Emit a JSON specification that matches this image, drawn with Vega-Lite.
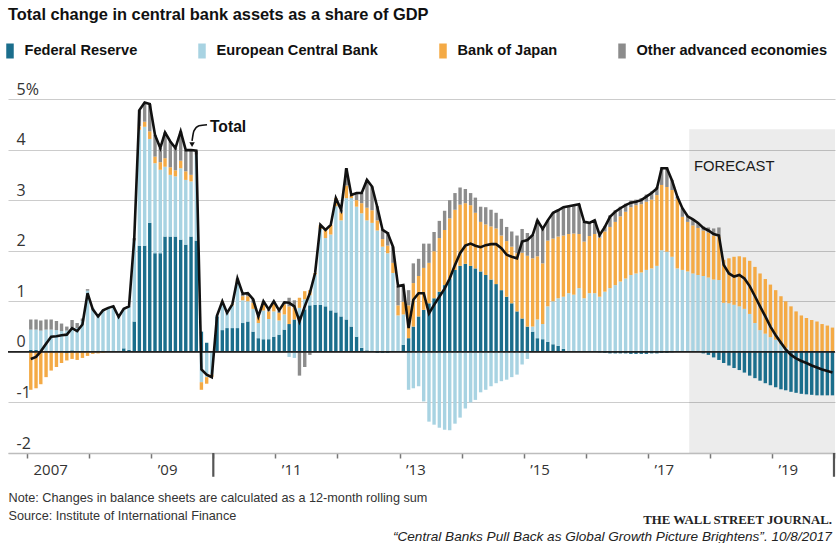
{
"$schema": "https://vega.github.io/schema/vega-lite/v6.json",
"width": 827,
"height": 354,
"autosize": {"type": "none"},
"padding": {"left": 8, "top": 99, "right": 2, "bottom": 90},
"background": "#ffffff",
"config": {"view": {"stroke": null}, "axis": {"zindex": 0}, "scale": {"continuousPadding": 0}},
"title": {"text": "Total change in central bank assets as a share of GDP", "anchor": "start", "frame": "group", "font": "Liberation Sans, Arial, sans-serif", "fontSize": 16.4, "fontWeight": "bold", "color": "#111111", "offset": 20},
"datasets": {"cb": [
{"t":"2007-01-23","s1":0.04,"s2":0.40,"s3":-0.75,"s4":0.20,"tot":-0.14},
{"t":"2007-02-23","s1":0.04,"s2":0.40,"s3":-0.72,"s4":0.20,"tot":-0.10},
{"t":"2007-03-23","s1":0.02,"s2":0.40,"s3":-0.64,"s4":0.20,"tot":0.01},
{"t":"2007-04-23","s1":0.01,"s2":0.43,"s3":-0.50,"s4":0.20,"tot":0.16},
{"t":"2007-05-23","s1":0.01,"s2":0.43,"s3":-0.37,"s4":0.20,"tot":0.30},
{"t":"2007-06-23","s1":0.01,"s2":0.42,"s3":-0.30,"s4":0.18,"tot":0.31},
{"t":"2007-07-23","s1":0.01,"s2":0.40,"s3":-0.22,"s4":0.15,"tot":0.33},
{"t":"2007-08-23","s1":-0.02,"s2":0.42,"s3":-0.15,"s4":0.08,"tot":0.34},
{"t":"2007-09-23","s1":0.03,"s2":0.45,"s3":-0.14,"s4":0.15,"tot":0.47},
{"t":"2007-10-23","s1":0.02,"s2":0.45,"s3":-0.16,"s4":0.10,"tot":0.41},
{"t":"2007-11-23","s1":0.01,"s2":0.60,"s3":-0.12,"s4":0.05,"tot":0.54},
{"t":"2007-12-23","s1":0.01,"s2":1.20,"s3":-0.08,"s4":0.03,"tot":1.16},
{"t":"2008-01-23","s1":0.02,"s2":0.85,"s3":-0.04,"s4":0,"tot":0.84},
{"t":"2008-02-23","s1":0.01,"s2":0.72,"s3":-0.03,"s4":0,"tot":0.70},
{"t":"2008-03-23","s1":0,"s2":0.83,"s3":-0.02,"s4":0,"tot":0.82},
{"t":"2008-04-23","s1":0,"s2":0.87,"s3":0,"s4":0,"tot":0.87},
{"t":"2008-05-23","s1":0.01,"s2":0.89,"s3":0,"s4":0,"tot":0.90},
{"t":"2008-06-23","s1":0.02,"s2":0.67,"s3":0,"s4":0,"tot":0.69},
{"t":"2008-07-23","s1":0.07,"s2":0.78,"s3":0,"s4":0,"tot":0.85},
{"t":"2008-08-23","s1":0.04,"s2":0.86,"s3":0,"s4":0,"tot":0.90},
{"t":"2008-09-23","s1":0.60,"s2":1.60,"s3":0,"s4":0.05,"tot":2.25},
{"t":"2008-10-23","s1":2.10,"s2":2.29,"s3":0.07,"s4":0.32,"tot":4.78},
{"t":"2008-11-23","s1":2.10,"s2":2.35,"s3":0.10,"s4":0.38,"tot":4.93},
{"t":"2008-12-23","s1":2.55,"s2":1.66,"s3":0.15,"s4":0.54,"tot":4.90},
{"t":"2009-01-23","s1":1.95,"s2":1.78,"s3":0.13,"s4":0.43,"tot":4.29},
{"t":"2009-02-23","s1":1.95,"s2":1.65,"s3":0.15,"s4":0.28,"tot":4.03},
{"t":"2009-03-23","s1":2.28,"s2":1.38,"s3":0.17,"s4":0.51,"tot":4.34},
{"t":"2009-04-23","s1":2.28,"s2":1.22,"s3":0.15,"s4":0.51,"tot":4.16},
{"t":"2009-05-23","s1":2.28,"s2":1.19,"s3":0.12,"s4":0.44,"tot":4.03},
{"t":"2009-06-23","s1":2.22,"s2":1.41,"s3":0.15,"s4":0.58,"tot":4.36},
{"t":"2009-07-23","s1":2.12,"s2":1.28,"s3":0.17,"s4":0.42,"tot":3.99},
{"t":"2009-08-23","s1":2.28,"s2":1.09,"s3":0.13,"s4":0.49,"tot":3.99},
{"t":"2009-09-23","s1":2.20,"s2":1.70,"s3":0,"s4":0.08,"tot":3.98},
{"t":"2009-10-23","s1":0.40,"s2":-0.60,"s3":-0.15,"s4":0,"tot":-0.35},
{"t":"2009-11-23","s1":0.18,"s2":-0.50,"s3":-0.13,"s4":0,"tot":-0.45},
{"t":"2009-12-23","s1":0,"s2":-0.45,"s3":-0.05,"s4":0,"tot":-0.50},
{"t":"2010-01-23","s1":0.70,"s2":0.02,"s3":0,"s4":0,"tot":0.72},
{"t":"2010-02-23","s1":0.43,"s2":0.55,"s3":0.02,"s4":0,"tot":1.00},
{"t":"2010-03-23","s1":0.47,"s2":0.30,"s3":0,"s4":0,"tot":0.77},
{"t":"2010-04-23","s1":0.47,"s2":0.45,"s3":0.02,"s4":0,"tot":0.94},
{"t":"2010-05-23","s1":0.47,"s2":0.90,"s3":0.05,"s4":0.03,"tot":1.45},
{"t":"2010-06-23","s1":0.57,"s2":0.45,"s3":0.08,"s4":0.05,"tot":1.15},
{"t":"2010-07-23","s1":0.60,"s2":0.40,"s3":0.10,"s4":0.06,"tot":1.16},
{"t":"2010-08-23","s1":0.40,"s2":0.45,"s3":0.12,"s4":0.07,"tot":1.04},
{"t":"2010-09-23","s1":0.27,"s2":0.30,"s3":0.12,"s4":0.01,"tot":0.70},
{"t":"2010-10-23","s1":0.25,"s2":0.57,"s3":0.15,"s4":0.03,"tot":1.00},
{"t":"2010-11-23","s1":0.25,"s2":0.40,"s3":0.15,"s4":0.04,"tot":0.84},
{"t":"2010-12-23","s1":0.30,"s2":0.50,"s3":0.15,"s4":0.05,"tot":1.00},
{"t":"2011-01-23","s1":0.34,"s2":0.28,"s3":0.15,"s4":0.05,"tot":0.82},
{"t":"2011-02-23","s1":0.44,"s2":0.30,"s3":0.20,"s4":0.04,"tot":0.98},
{"t":"2011-03-23","s1":0.55,"s2":-0.10,"s3":0.35,"s4":0.17,"tot":0.97},
{"t":"2011-04-23","s1":0.64,"s2":-0.12,"s3":0.25,"s4":0.13,"tot":0.90},
{"t":"2011-05-23","s1":0.72,"s2":0.15,"s3":0.20,"s4":-0.47,"tot":0.60},
{"t":"2011-06-23","s1":0.84,"s2":0.20,"s3":0.16,"s4":-0.30,"tot":0.90},
{"t":"2011-07-23","s1":0.92,"s2":0.20,"s3":0.10,"s4":-0.06,"tot":1.16},
{"t":"2011-08-23","s1":0.93,"s2":0.60,"s3":0.03,"s4":0,"tot":1.56},
{"t":"2011-09-23","s1":0.93,"s2":1.50,"s3":0.08,"s4":0,"tot":2.51},
{"t":"2011-10-23","s1":0.90,"s2":1.35,"s3":0.16,"s4":0,"tot":2.41},
{"t":"2011-11-23","s1":0.82,"s2":1.50,"s3":0.19,"s4":0,"tot":2.51},
{"t":"2011-12-23","s1":0.78,"s2":2.10,"s3":0.16,"s4":0,"tot":3.04},
{"t":"2012-01-23","s1":0.70,"s2":1.90,"s3":0.15,"s4":0.06,"tot":2.81},
{"t":"2012-02-23","s1":0.64,"s2":2.40,"s3":0.25,"s4":0.34,"tot":3.63},
{"t":"2012-03-23","s1":0.50,"s2":2.54,"s3":0.06,"s4":0,"tot":3.10},
{"t":"2012-04-23","s1":0.30,"s2":2.57,"s3":0.13,"s4":0.14,"tot":3.14},
{"t":"2012-05-23","s1":0.08,"s2":2.66,"s3":0.20,"s4":0.20,"tot":3.14},
{"t":"2012-06-23","s1":0.03,"s2":2.57,"s3":0.25,"s4":0.55,"tot":3.40},
{"t":"2012-07-23","s1":0,"s2":2.55,"s3":0.25,"s4":0.47,"tot":3.27},
{"t":"2012-08-23","s1":-0.02,"s2":2.40,"s3":0.20,"s4":0.28,"tot":2.86},
{"t":"2012-09-23","s1":-0.02,"s2":2.08,"s3":0.15,"s4":0.20,"tot":2.41},
{"t":"2012-10-23","s1":-0.02,"s2":1.95,"s3":0.15,"s4":0.27,"tot":2.35},
{"t":"2012-11-23","s1":0,"s2":1.56,"s3":0.20,"s4":0.32,"tot":2.08},
{"t":"2012-12-23","s1":0.02,"s2":0.70,"s3":0.20,"s4":0.38,"tot":1.30},
{"t":"2013-01-23","s1":0.14,"s2":0.60,"s3":0.25,"s4":0.33,"tot":1.32},
{"t":"2013-02-23","s1":0.27,"s2":-0.75,"s3":0.65,"s4":0.30,"tot":0.47},
{"t":"2013-03-23","s1":0.50,"s2":-0.72,"s3":0.86,"s4":0.39,"tot":1.03},
{"t":"2013-04-23","s1":0.70,"s2":-0.68,"s3":0.80,"s4":0.34,"tot":1.16},
{"t":"2013-05-23","s1":0.83,"s2":-0.98,"s3":0.83,"s4":0.48,"tot":1.16},
{"t":"2013-06-23","s1":0.96,"s2":-1.38,"s3":0.80,"s4":0.38,"tot":0.76},
{"t":"2013-07-23","s1":1.06,"s2":-1.44,"s3":0.93,"s4":0.38,"tot":0.93},
{"t":"2013-08-23","s1":1.19,"s2":-1.50,"s3":1.06,"s4":0.34,"tot":1.09},
{"t":"2013-09-23","s1":1.32,"s2":-1.54,"s3":1.09,"s4":0.38,"tot":1.25},
{"t":"2013-10-23","s1":1.45,"s2":-1.55,"s3":1.19,"s4":0.36,"tot":1.45},
{"t":"2013-11-23","s1":1.62,"s2":-1.42,"s3":1.19,"s4":0.33,"tot":1.72},
{"t":"2013-12-23","s1":1.70,"s2":-1.30,"s3":1.21,"s4":0.34,"tot":1.95},
{"t":"2014-01-23","s1":1.74,"s2":-1.12,"s3":1.20,"s4":0.28,"tot":2.10},
{"t":"2014-02-23","s1":1.70,"s2":-1.00,"s3":1.20,"s4":0.24,"tot":2.14},
{"t":"2014-03-23","s1":1.65,"s2":-0.95,"s3":1.10,"s4":0.30,"tot":2.10},
{"t":"2014-04-23","s1":1.59,"s2":-0.80,"s3":0.98,"s4":0.30,"tot":2.07},
{"t":"2014-05-23","s1":1.52,"s2":-0.75,"s3":1.00,"s4":0.34,"tot":2.11},
{"t":"2014-06-23","s1":1.43,"s2":-0.68,"s3":1.05,"s4":0.33,"tot":2.13},
{"t":"2014-07-23","s1":1.34,"s2":-0.62,"s3":1.10,"s4":0.31,"tot":2.13},
{"t":"2014-08-23","s1":1.22,"s2":-0.58,"s3":1.08,"s4":0.33,"tot":2.05},
{"t":"2014-09-23","s1":1.09,"s2":-0.55,"s3":1.10,"s4":0.28,"tot":1.92},
{"t":"2014-10-23","s1":0.96,"s2":-0.50,"s3":1.12,"s4":0.30,"tot":1.88},
{"t":"2014-11-23","s1":0.80,"s2":-0.45,"s3":1.15,"s4":0.35,"tot":1.85},
{"t":"2014-12-23","s1":0.66,"s2":-0.25,"s3":1.30,"s4":0.47,"tot":2.18},
{"t":"2015-01-23","s1":0.50,"s2":-0.14,"s3":1.40,"s4":0.45,"tot":2.21},
{"t":"2015-02-23","s1":0.40,"s2":0.10,"s3":1.35,"s4":0.46,"tot":2.31},
{"t":"2015-03-23","s1":0.27,"s2":0.37,"s3":1.25,"s4":0.71,"tot":2.60},
{"t":"2015-04-23","s1":0.25,"s2":0.30,"s3":1.20,"s4":0.68,"tot":2.43},
{"t":"2015-05-23","s1":0.20,"s2":0.70,"s3":1.30,"s4":0.40,"tot":2.60},
{"t":"2015-06-23","s1":0.15,"s2":0.85,"s3":1.24,"s4":0.51,"tot":2.75},
{"t":"2015-07-23","s1":0.12,"s2":0.94,"s3":1.22,"s4":0.52,"tot":2.80},
{"t":"2015-08-23","s1":0.06,"s2":1.03,"s3":1.21,"s4":0.56,"tot":2.86},
{"t":"2015-09-23","s1":0.02,"s2":1.14,"s3":1.17,"s4":0.55,"tot":2.88},
{"t":"2015-10-23","s1":0,"s2":1.13,"s3":1.21,"s4":0.56,"tot":2.90},
{"t":"2015-11-23","s1":0,"s2":1.26,"s3":1.07,"s4":0.59,"tot":2.92},
{"t":"2015-12-23","s1":0,"s2":1.06,"s3":1.12,"s4":0.39,"tot":2.57},
{"t":"2016-01-23","s1":0,"s2":1.16,"s3":1.13,"s4":0.26,"tot":2.55},
{"t":"2016-02-23","s1":0,"s2":1.16,"s3":1.17,"s4":0.27,"tot":2.60},
{"t":"2016-03-23","s1":-0.01,"s2":1.09,"s3":1.17,"s4":0.06,"tot":2.31},
{"t":"2016-04-23","s1":-0.02,"s2":1.19,"s3":1.19,"s4":0.11,"tot":2.47},
{"t":"2016-05-23","s1":-0.03,"s2":1.26,"s3":1.21,"s4":0.23,"tot":2.67},
{"t":"2016-06-23","s1":-0.03,"s2":1.32,"s3":1.25,"s4":0.23,"tot":2.77},
{"t":"2016-07-23","s1":-0.03,"s2":1.39,"s3":1.29,"s4":0.19,"tot":2.84},
{"t":"2016-08-23","s1":-0.03,"s2":1.45,"s3":1.32,"s4":0.16,"tot":2.90},
{"t":"2016-09-23","s1":-0.04,"s2":1.52,"s3":1.34,"s4":0.13,"tot":2.95},
{"t":"2016-10-23","s1":-0.04,"s2":1.55,"s3":1.35,"s4":0.11,"tot":2.97},
{"t":"2016-11-23","s1":-0.04,"s2":1.57,"s3":1.35,"s4":0.12,"tot":3.00},
{"t":"2016-12-23","s1":-0.04,"s2":1.62,"s3":1.35,"s4":0.14,"tot":3.07},
{"t":"2017-01-23","s1":-0.03,"s2":1.65,"s3":1.36,"s4":0.16,"tot":3.14},
{"t":"2017-02-23","s1":-0.03,"s2":1.70,"s3":1.40,"s4":0.16,"tot":3.23},
{"t":"2017-03-23","s1":-0.02,"s2":2.01,"s3":1.29,"s4":0.35,"tot":3.63},
{"t":"2017-04-23","s1":-0.02,"s2":1.98,"s3":1.28,"s4":0.39,"tot":3.63},
{"t":"2017-05-23","s1":-0.01,"s2":1.88,"s3":1.32,"s4":0.20,"tot":3.39},
{"t":"2017-06-23","s1":0,"s2":1.65,"s3":1.38,"s4":0.04,"tot":3.07},
{"t":"2017-07-23","s1":0,"s2":1.62,"s3":1.05,"s4":0.17,"tot":2.84},
{"t":"2017-08-23","s1":0,"s2":1.59,"s3":0.98,"s4":0.11,"tot":2.68},
{"t":"2017-09-23","s1":0,"s2":1.55,"s3":0.95,"s4":0.12,"tot":2.62},
{"t":"2017-10-23","s1":0,"s2":1.52,"s3":0.93,"s4":0.10,"tot":2.55},
{"t":"2017-11-23","s1":-0.03,"s2":1.50,"s3":0.90,"s4":0.08,"tot":2.45},
{"t":"2017-12-23","s1":-0.06,"s2":1.47,"s3":0.89,"s4":0.10,"tot":2.40},
{"t":"2018-01-23","s1":-0.11,"s2":1.43,"s3":0.87,"s4":0.14,"tot":2.33},
{"t":"2018-02-23","s1":-0.16,"s2":1.42,"s3":0.86,"s4":0.18,"tot":2.30},
{"t":"2018-03-23","s1":-0.22,"s2":0.97,"s3":0.85,"s4":0,"tot":1.72},
{"t":"2018-04-23","s1":-0.27,"s2":0.96,"s3":0.89,"s4":0,"tot":1.55},
{"t":"2018-05-23","s1":-0.32,"s2":0.93,"s3":0.95,"s4":0,"tot":1.49},
{"t":"2018-06-23","s1":-0.36,"s2":0.90,"s3":0.99,"s4":0,"tot":1.52},
{"t":"2018-07-23","s1":-0.41,"s2":0.85,"s3":1.02,"s4":0,"tot":1.45},
{"t":"2018-08-23","s1":-0.47,"s2":0.75,"s3":1.05,"s4":0,"tot":1.30},
{"t":"2018-09-23","s1":-0.52,"s2":0.57,"s3":1.11,"s4":0,"tot":1.10},
{"t":"2018-10-23","s1":-0.57,"s2":0.43,"s3":1.12,"s4":0,"tot":0.90},
{"t":"2018-11-23","s1":-0.62,"s2":0.36,"s3":1.08,"s4":0,"tot":0.70},
{"t":"2018-12-23","s1":-0.66,"s2":0.29,"s3":1.04,"s4":0,"tot":0.50},
{"t":"2019-01-23","s1":-0.70,"s2":0.24,"s3":0.98,"s4":0,"tot":0.33},
{"t":"2019-02-23","s1":-0.74,"s2":0.15,"s3":0.95,"s4":0,"tot":0.18},
{"t":"2019-03-23","s1":-0.76,"s2":0.08,"s3":0.92,"s4":0,"tot":0.05},
{"t":"2019-04-23","s1":-0.79,"s2":0.03,"s3":0.87,"s4":0,"tot":-0.06},
{"t":"2019-05-23","s1":-0.81,"s2":0,"s3":0.80,"s4":0,"tot":-0.13},
{"t":"2019-06-23","s1":-0.83,"s2":0,"s3":0.72,"s4":0,"tot":-0.18},
{"t":"2019-07-23","s1":-0.84,"s2":0,"s3":0.67,"s4":0,"tot":-0.22},
{"t":"2019-08-23","s1":-0.85,"s2":0,"s3":0.63,"s4":0,"tot":-0.27},
{"t":"2019-09-23","s1":-0.86,"s2":0,"s3":0.60,"s4":0,"tot":-0.31},
{"t":"2019-10-23","s1":-0.86,"s2":0,"s3":0.55,"s4":0,"tot":-0.35},
{"t":"2019-11-23","s1":-0.86,"s2":0,"s3":0.52,"s4":0,"tot":-0.38},
{"t":"2019-12-23","s1":-0.86,"s2":0,"s3":0.48,"s4":0,"tot":-0.41}
]},
"data": {"name": "cb"},
"layer": [
{"data": {"values": [{}]},
 "mark": {"type": "rect", "color": "#000000", "opacity": 0.075},
 "encoding": {
  "x": {"datum": {"year": 2017, "month": 9, "date": 1, "utc": true}, "type": "temporal", "scale": {"type": "utc", "padding": 0, "domain": [{"year": 2006, "month": 9, "date": 11, "utc": true}, {"year": 2020, "month": 1, "date": 7, "utc": true}]}},
  "x2": {"datum": {"year": 2020, "month": 1, "date": 7, "utc": true}},
  "y": {"datum": 4.4, "type": "quantitative", "title": null, "scale": {"domain": [-2, 5], "nice": false, "zero": false}},
  "y2": {"datum": -2}}},
{"transform": [{"fold": ["s1", "s2", "s3", "s4"], "as": ["k", "v"]}],
 "mark": {"type": "bar", "width": 3.4},
 "encoding": {
  "x": {"field": "t", "type": "temporal",
   "scale": {"type": "utc", "padding": 0, "domain": [{"year": 2006, "month": 9, "date": 11, "utc": true}, {"year": 2020, "month": 1, "date": 7, "utc": true}]},
   "axis": {
    "values": [{"year": 2007, "month": 1, "date": 1, "utc": true}, {"year": 2008, "month": 1, "date": 1, "utc": true}, {"year": 2009, "month": 1, "date": 1, "utc": true}, {"year": 2010, "month": 1, "date": 1, "utc": true}, {"year": 2011, "month": 1, "date": 1, "utc": true}, {"year": 2012, "month": 1, "date": 1, "utc": true}, {"year": 2013, "month": 1, "date": 1, "utc": true}, {"year": 2014, "month": 1, "date": 1, "utc": true}, {"year": 2015, "month": 1, "date": 1, "utc": true}, {"year": 2016, "month": 1, "date": 1, "utc": true}, {"year": 2017, "month": 1, "date": 1, "utc": true}, {"year": 2018, "month": 1, "date": 1, "utc": true}, {"year": 2019, "month": 1, "date": 1, "utc": true}, {"year": 2020, "month": 1, "date": 1, "utc": true}],
    "labelExpr": "utcyear(datum.value) == 2007 ? '2007' : (utcyear(datum.value) % 2 == 1 ? '’' + utcFormat(datum.value, '%y') : '')",
    "grid": false, "domain": true, "domainColor": "#bdbdbd", "domainWidth": 1.5,
    "ticks": true, "tickColor": "#777777", "tickSize": 5, "tickWidth": 1.5,
    "labelAlign": "left", "labelOffset": 6, "labelPadding": 4, "labelBaseline": "top",
    "labelFont": "Open Sans", "labelFontSize": 15, "labelColor": "#333333",
    "labelFlush": false, "labelOverlap": false, "labelBound": false,
    "title": ["Note: Changes in balance sheets are calculated as a 12-month rolling sum", "Source: Institute of International Finance"],
    "titleFont": "Liberation Sans, Arial, sans-serif", "titleFontSize": 12.7, "titleFontWeight": "normal", "titleColor": "#333333",
    "titleAnchor": "start", "titleAlign": "left", "titleBaseline": "top", "titleX": 0, "titleY": 38, "titleLineHeight": 18.5, "titleAngle": 0}},
  "y": {"field": "v", "type": "quantitative", "stack": "zero",
   "scale": {"domain": [-2, 5], "nice": false, "zero": false},
   "axis": {"values": [-2, -1, 0, 1, 2, 3, 4, 5], "grid": true, "gridColor": "#cccccc", "gridWidth": 1.2,
    "domain": false, "ticks": false, "tickSize": 0, "labelAlign": "left", "labelBaseline": "alphabetic",
    "labelPadding": -8, "labelOffset": -5, "labelFont": "Open Sans", "labelFontSize": 16, "labelColor": "#333333",
    "labelExpr": "datum.value == 5 ? '5%' : (datum.value < 0 ? '-' + abs(datum.value) : '' + datum.value)",
    "labelFlush": false, "labelBound": false, "labelOverlap": false, "title": null}},
  "color": {"field": "k", "type": "nominal",
   "scale": {"domain": ["s1", "s2", "s3", "s4"], "range": ["#1b6e8c", "#a8d3e2", "#f4aa45", "#8c8c8c"]},
   "legend": {"orient": "none", "legendX": -5.5, "legendY": -55.5, "direction": "horizontal", "title": null,
    "symbolType": "M-0.5,-1H0.5V1H-0.5Z", "symbolSize": 225, "symbolStrokeWidth": 0, "symbolOpacity": 1,
    "labelFont": "Liberation Sans, Arial, sans-serif", "labelFontSize": 14.6, "labelFontWeight": "bold", "labelColor": "#111111",
    "labelOffset": 7, "columnPadding": 57, "labelLimit": 400,
    "labelExpr": "datum.label == 's1' ? 'Federal Reserve' : datum.label == 's2' ? 'European Central Bank' : datum.label == 's3' ? 'Bank of Japan' : 'Other advanced economies'"}},
  "order": {"field": "k", "type": "ordinal", "sort": "ascending"}}},
{"data": {"values": [{}]},
 "mark": {"type": "rule", "color": "#222222", "strokeWidth": 1.6},
 "encoding": {"y": {"datum": 0, "type": "quantitative", "title": null, "scale": {"domain": [-2, 5], "nice": false, "zero": false}}}},
{"data": {"values": [{"t": "2010-01-01"}, {"t": "2020-01-01"}]},
 "mark": {"type": "rule", "color": "#555555", "strokeWidth": 2.2},
 "encoding": {
  "x": {"field": "t", "type": "temporal", "scale": {"type": "utc", "padding": 0, "domain": [{"year": 2006, "month": 9, "date": 11, "utc": true}, {"year": 2020, "month": 1, "date": 7, "utc": true}]}},
  "y": {"datum": -2, "type": "quantitative", "title": null, "scale": {"domain": [-2, 5], "nice": false, "zero": false}},
  "y2": {"datum": -2.47}}},
{"mark": {"type": "line", "color": "#111111", "strokeWidth": 2.6},
 "encoding": {
  "x": {"field": "t", "type": "temporal", "scale": {"type": "utc", "padding": 0, "domain": [{"year": 2006, "month": 9, "date": 11, "utc": true}, {"year": 2020, "month": 1, "date": 7, "utc": true}]}},
  "y": {"field": "tot", "type": "quantitative", "title": null, "scale": {"domain": [-2, 5], "nice": false, "zero": false}}}},
{"data": {"values": [{"t": "2009-08-29", "v": 4.17}, {"t": "2009-09-09", "v": 4.37}, {"t": "2009-10-09", "v": 4.47}, {"t": "2009-11-25", "v": 4.49}]},
 "mark": {"type": "line", "color": "#111111", "strokeWidth": 1.6, "interpolate": "monotone"},
 "encoding": {
  "x": {"field": "t", "type": "temporal", "scale": {"type": "utc", "padding": 0, "domain": [{"year": 2006, "month": 9, "date": 11, "utc": true}, {"year": 2020, "month": 1, "date": 7, "utc": true}]}},
  "y": {"field": "v", "type": "quantitative", "title": null, "scale": {"domain": [-2, 5], "nice": false, "zero": false}}}},
{"data": {"values": [{}]},
 "mark": {"type": "point", "shape": "triangle-down", "filled": true, "color": "#111111", "size": 30, "opacity": 1},
 "encoding": {
  "x": {"datum": {"year": 2009, "month": 8, "date": 29, "utc": true}, "type": "temporal", "scale": {"type": "utc", "padding": 0, "domain": [{"year": 2006, "month": 9, "date": 11, "utc": true}, {"year": 2020, "month": 1, "date": 7, "utc": true}]}},
  "y": {"datum": 4.1, "type": "quantitative", "title": null, "scale": {"domain": [-2, 5], "nice": false, "zero": false}}}},
{"data": {"values": [{}]},
 "mark": {"type": "text", "text": "Total", "align": "left", "baseline": "middle", "font": "Liberation Sans, Arial, sans-serif", "fontSize": 15.7, "fontWeight": "bold", "color": "#111111"},
 "encoding": {
  "x": {"datum": {"year": 2009, "month": 12, "date": 12, "utc": true}, "type": "temporal", "scale": {"type": "utc", "padding": 0, "domain": [{"year": 2006, "month": 9, "date": 11, "utc": true}, {"year": 2020, "month": 1, "date": 7, "utc": true}]}},
  "y": {"datum": 4.45, "type": "quantitative", "title": null, "scale": {"domain": [-2, 5], "nice": false, "zero": false}}}},
{"data": {"values": [{}]},
 "mark": {"type": "text", "text": "FORECAST", "align": "left", "baseline": "middle", "font": "Liberation Sans, Arial, sans-serif", "fontSize": 14.8, "fontWeight": "normal", "color": "#1a1a1a"},
 "encoding": {
  "x": {"datum": {"year": 2017, "month": 9, "date": 29, "utc": true}, "type": "temporal", "scale": {"type": "utc", "padding": 0, "domain": [{"year": 2006, "month": 9, "date": 11, "utc": true}, {"year": 2020, "month": 1, "date": 7, "utc": true}]}},
  "y": {"datum": 3.66, "type": "quantitative", "title": null, "scale": {"domain": [-2, 5], "nice": false, "zero": false}}}},
{"data": {"values": [{}]},
 "mark": {"type": "text", "text": "THE WALL STREET JOURNAL.", "align": "right", "baseline": "alphabetic", "font": "Liberation Serif, serif", "fontSize": 12.8, "fontWeight": "bold", "color": "#222222"},
 "encoding": {
  "x": {"datum": {"year": 2019, "month": 12, "date": 20, "utc": true}, "type": "temporal", "scale": {"type": "utc", "padding": 0, "domain": [{"year": 2006, "month": 9, "date": 11, "utc": true}, {"year": 2020, "month": 1, "date": 7, "utc": true}]}},
  "y": {"datum": -3.40, "type": "quantitative", "title": null, "scale": {"domain": [-2, 5], "nice": false, "zero": false}}}},
{"data": {"values": [{}]},
 "mark": {"type": "text", "text": "“Central Banks Pull Back as Global Growth Picture Brightens”. 10/8/2017", "align": "right", "baseline": "alphabetic", "font": "Liberation Sans, Arial, sans-serif", "fontSize": 13.6, "fontStyle": "italic", "color": "#222222"},
 "encoding": {
  "x": {"datum": {"year": 2019, "month": 12, "date": 20, "utc": true}, "type": "temporal", "scale": {"type": "utc", "padding": 0, "domain": [{"year": 2006, "month": 9, "date": 11, "utc": true}, {"year": 2020, "month": 1, "date": 7, "utc": true}]}},
  "y": {"datum": -3.74, "type": "quantitative", "title": null, "scale": {"domain": [-2, 5], "nice": false, "zero": false}}}}
]
}
